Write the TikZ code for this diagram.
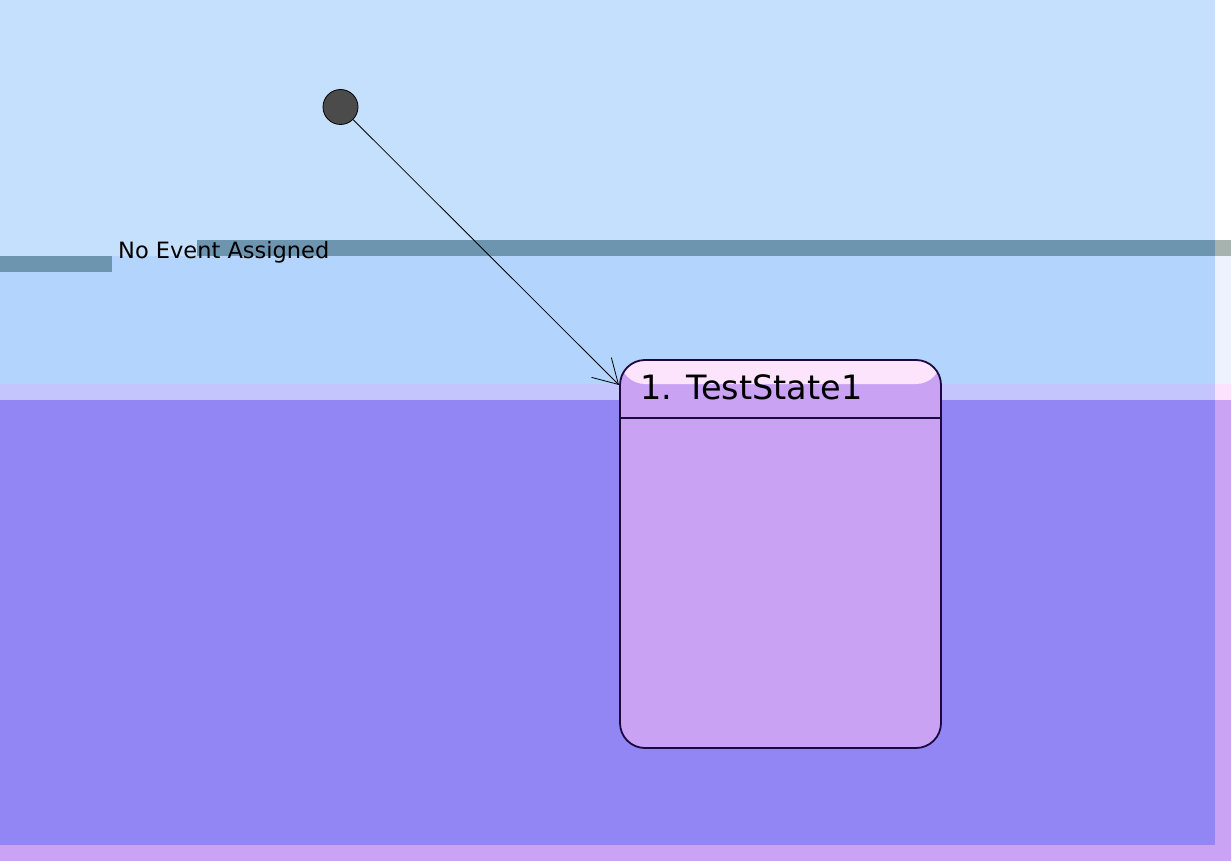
\documentclass[tikz,border=0pt]{standalone}
\usepackage{fontspec}
\setmainfont{DejaVu Sans}
\usetikzlibrary{arrows.meta}
\definecolor{bgtop}{HTML}{C5E0FC}
\definecolor{bgmid}{HTML}{B3D4FC}
\definecolor{bglav}{HTML}{C3C5FC}
\definecolor{bgpur}{HTML}{9285F4}
\definecolor{bgpink}{HTML}{CAA3F4}
\definecolor{bandc}{HTML}{6E95AF}
\definecolor{bandr}{HTML}{A7B3AE}
\definecolor{stripmid}{HTML}{EEF2FE}
\definecolor{striplav}{HTML}{FCE2FC}
\definecolor{statefill}{HTML}{C9A2F4}
\definecolor{hdrfill}{HTML}{FBE4FC}
\definecolor{stateline}{HTML}{1A0A40}
\definecolor{initfill}{HTML}{4B4B4B}
\tikzset{
  initstate/.style={circle, draw=black, line width=0.8pt, fill=initfill, minimum size=35pt, inner sep=0pt},
  statebox/.style={rectangle, rounded corners=25pt, draw=stateline, line width=1.8pt, fill=statefill,
    minimum width=321pt, minimum height=388pt, inner sep=0pt,
    path picture={\fill[hdrfill] (path picture bounding box.north west) rectangle ([yshift=-24pt]path picture bounding box.north east);}},
  trans/.style={draw=black, line width=0.8pt, -{Straight Barb[length=24pt,width=28pt,line width=0.8pt]}},
  lbl/.style={anchor=base west, inner sep=0pt, font=\fontsize{22.5}{27}\selectfont},
  title/.style={anchor=base west, inner sep=0pt, font=\fontsize{33.5}{40}\selectfont}
}
\begin{document}
\begin{tikzpicture}[x=1pt,y=-1pt]
\useasboundingbox (0,0) rectangle (1231,861);
% background bands
\fill[white] (0,0) rectangle (1231,861);
\fill[bgtop] (0,0) rectangle (1215,240);
\fill[bgtop] (0,240) rectangle (197,256);
\fill[bandc] (197,240) rectangle (1215,256);
\fill[bandr] (1215,240) rectangle (1231,256);
\fill[bgmid] (0,256) rectangle (1215,384);
\fill[bandc] (0,256) rectangle (112,272);
\fill[stripmid] (1215,256) rectangle (1231,384);
\fill[bglav] (0,384) rectangle (1215,400);
\fill[striplav] (1215,384) rectangle (1231,400);
\fill[bgpur] (0,400) rectangle (1215,845);
\fill[bgpink] (1215,400) rectangle (1231,861);
\fill[bgpink] (0,845) rectangle (1215,861);
% state
\node[statebox] (state) at (780.5,554) {};
\draw[stateline, line width=1.6pt] (620,418) -- (941,418);
\node[title] (stname) at (640,399) {1. TestState1};
% initial state
\node[initstate] (init) at (340.5,107) {};
\coordinate (tip) at (619,385);
\draw[trans] (init) -- (tip);
% transition label
\node[lbl] (evt) at (118,258) {No Event Assigned};
\end{tikzpicture}
\end{document}
